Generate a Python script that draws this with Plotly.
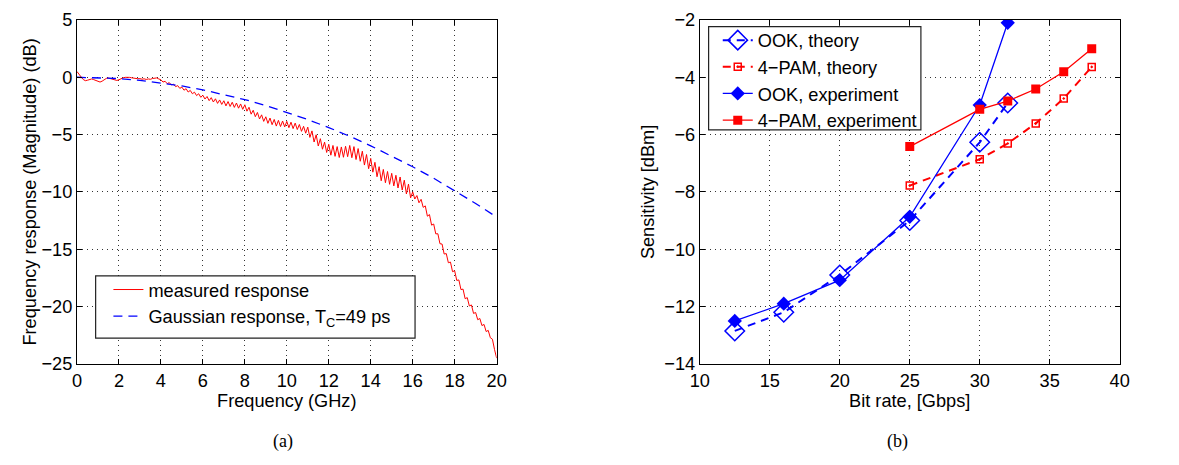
import plotly.graph_objects as go

# ---------------- Data: panel (a) ----------------
measured_db = [
    0.50, 0.30, 0.02, -0.20, -0.30, -0.26, -0.18, -0.15, -0.21, -0.30,
    -0.37, -0.42, -0.34, -0.20, -0.10, -0.07, -0.13, -0.19, -0.26, -0.28,
    -0.22, -0.11, -0.05, -0.01, 0.02, -0.01, -0.05, -0.09, -0.08, -0.13,
    -0.12, -0.17, -0.14, -0.19, -0.15, -0.18, -0.11, -0.10, -0.06, -0.15,
    -0.22, -0.42, -0.35, -0.56, -0.47, -0.68, -0.60, -0.82, -0.73, -0.97,
    -0.86, -1.13, -1.00, -1.29, -1.15, -1.44, -1.30, -1.60, -1.44, -1.75,
    -1.57, -1.90, -1.68, -2.04, -1.78, -2.16, -1.88, -2.28, -1.98, -2.37,
    -2.05, -2.50, -2.12, -2.55, -2.18, -2.63, -2.25, -2.70, -2.33, -2.80,
    -2.40, -2.96, -2.62, -3.22, -2.88, -3.44, -3.07, -3.64, -3.28, -3.85,
    -3.45, -4.02, -3.56, -4.14, -3.68, -4.26, -3.76, -4.30, -3.82, -4.33,
    -3.85, -4.40, -3.92, -4.48, -4.00, -4.56, -4.12, -4.72, -4.28, -4.88,
    -4.35, -5.25, -4.68, -5.65, -5.02, -6.00, -5.36, -6.28, -5.66, -6.56,
    -5.85, -6.80, -5.95, -6.90, -6.05, -7.00, -6.08, -6.98, -6.02, -6.93,
    -5.95, -7.02, -6.05, -7.18, -6.22, -7.33, -6.45, -7.66, -6.74, -7.98,
    -7.08, -8.28, -7.42, -8.68, -7.80, -9.03, -8.04, -9.20, -8.22, -9.34,
    -8.38, -9.48, -8.55, -9.66, -8.70, -9.84, -8.98, -10.18, -9.32, -10.52,
    -10.00, -10.62, -10.32, -10.95, -10.65, -11.35, -11.22, -12.12, -11.98, -12.90,
    -12.80, -13.66, -13.65, -14.52, -14.55, -15.42, -15.38, -16.18, -16.12, -16.96,
    -16.88, -17.72, -17.68, -18.52, -18.48, -19.32, -19.22, -19.95, -19.86, -20.60,
    -20.52, -21.15, -21.04, -21.66, -21.56, -22.18, -22.08, -22.72, -22.85, -23.75,
    -24.50,
]
measured_freq = [round(0.1 * i, 1) for i in range(len(measured_db))]

gauss_freq = [0, 1, 2, 3, 4, 5, 6, 7, 8, 9, 10, 11, 12, 13, 14, 15, 16, 17, 18, 19, 19.8]
gauss_db = [0.0, -0.03, -0.12, -0.27, -0.49, -0.76, -1.10, -1.50, -1.95, -2.47, -3.05,
            -3.69, -4.39, -5.15, -5.98, -6.86, -7.81, -8.81, -9.88, -11.01, -11.96]

# ---------------- Data: panel (b) ----------------
ook_rate = [12.5, 16, 20, 25, 30, 32]
ook_theory = [-12.85, -12.2, -10.9, -9.0, -6.27, -4.9]
ook_exp = [-12.5, -11.9, -11.08, -8.87, -4.97, -2.1]

pam_rate = [25, 30, 32, 34, 36, 38]
pam_theory = [-7.78, -6.86, -6.31, -5.61, -4.74, -3.64]
pam_exp = [-6.42, -5.12, -4.83, -4.41, -3.81, -3.01]

x1_ticks = [0, 2, 4, 6, 8, 10, 12, 14, 16, 18, 20]
y1_ticks = [5, 0, -5, -10, -15, -20, -25]
x2_ticks = [10, 15, 20, 25, 30, 35, 40]
y2_ticks = [-2, -4, -6, -8, -10, -12, -14]

# ---------------- Figure ----------------
# the page keeps the browser's default 8px body margin; the figure fills the rest exactly
OFF = 8
W, H = 1179 - 2 * OFF, 465 - 2 * OFF
BLUE = "rgb(0,0,255)"
RED = "rgb(255,0,0)"
FONT = "Liberation Sans, Arial, Helvetica, sans-serif"
SERIF = "Liberation Serif, Times New Roman, serif"
FS = 18.2


def px_x(p):
    return (p - OFF) / W


def px_y(p):
    return 1 - (p - OFF) / H


fig = go.Figure()

fig.add_trace(go.Scatter(
    x=measured_freq, y=measured_db, mode="lines", name="measured response",
    line=dict(color=RED, width=1), xaxis="x", yaxis="y", legend="legend"))
fig.add_trace(go.Scatter(
    x=gauss_freq, y=gauss_db, mode="lines", name="Gaussian response, T<sub>C</sub>=49 ps",
    line=dict(color=BLUE, width=1.3, dash="9px,6px"), xaxis="x", yaxis="y", legend="legend"))

fig.add_trace(go.Scatter(
    x=ook_rate, y=ook_theory, mode="lines+markers", name="OOK, theory",
    line=dict(color=BLUE, width=2, dash="8px,6px"),
    marker=dict(symbol="diamond-open", size=15, color=BLUE, line=dict(width=1.5, color=BLUE)),
    xaxis="x2", yaxis="y2", legend="legend2"))
fig.add_trace(go.Scatter(
    x=pam_rate, y=pam_theory, mode="lines+markers", name="4\u2212PAM, theory",
    line=dict(color=RED, width=2, dash="8px,6px"),
    marker=dict(symbol="square-open-dot", size=7, color=RED, line=dict(width=1.5, color=RED)),
    xaxis="x2", yaxis="y2", legend="legend2"))
fig.add_trace(go.Scatter(
    x=ook_rate, y=ook_exp, mode="lines+markers", name="OOK, experiment",
    line=dict(color=BLUE, width=1.3),
    marker=dict(symbol="diamond", size=11, color=BLUE),
    xaxis="x2", yaxis="y2", legend="legend2"))
fig.add_trace(go.Scatter(
    x=pam_rate, y=pam_exp, mode="lines+markers", name="4\u2212PAM, experiment",
    line=dict(color=RED, width=1.3),
    marker=dict(symbol="square", size=9, color=RED),
    xaxis="x2", yaxis="y2", legend="legend2"))

axis_common = dict(
    showline=True, linecolor="black", linewidth=1, mirror="ticks",
    ticks="inside", ticklen=5, tickcolor="black", tickwidth=1,
    showgrid=True, gridcolor="#333333", gridwidth=1, griddash="1px,4px",
    zeroline=False, ticklabeloverflow="allow",
    tickfont=dict(family=FONT, size=FS, color="black"),
    title_font=dict(family=FONT, size=FS, color="black"),
)

fig.update_layout(
    width=W, height=H, autosize=False,
    margin=dict(l=0, r=0, t=0, b=0),
    paper_bgcolor="white", plot_bgcolor="white",
    xaxis=dict(domain=[px_x(68), px_x(495)], range=[0, 20], tickvals=x1_ticks,
               anchor="y", title=dict(text="Frequency (GHz)", standoff=3), **axis_common),
    yaxis=dict(domain=[px_y(370), px_y(10)], range=[-25, 5], tickvals=y1_ticks,
               anchor="x", title=dict(text="Frequency response (Magnitude) (dB)", standoff=0),
               **axis_common),
    xaxis2=dict(domain=[px_x(701.7), px_x(1129)], range=[10, 40], tickvals=x2_ticks,
                anchor="y2", title=dict(text="Bit rate, [Gbps]", standoff=3), **axis_common),
    yaxis2=dict(domain=[px_y(370), px_y(10)], range=[-14, -2], tickvals=y2_ticks,
                anchor="x2", title=dict(text="Sensitivity [dBm]", standoff=4), **axis_common),
    legend=dict(x=px_x(100), y=px_y(273), xanchor="left", yanchor="top",
                bgcolor="rgba(0,0,0,0)", borderwidth=0, tracegroupgap=0,
                font=dict(family=FONT, size=FS, color="black")),
    legend2=dict(x=px_x(720), y=px_y(12), xanchor="left", yanchor="top",
                 bgcolor="rgba(0,0,0,0)", borderwidth=0, tracegroupgap=0,
                 font=dict(family=FONT, size=FS, color="black")),
    showlegend=True,
    shapes=[
        dict(type="rect", xref="paper", yref="paper", x0=px_x(87), x1=px_x(412),
             y0=px_y(343), y1=px_y(278), line=dict(color="#222", width=1.2),
             fillcolor="white", layer="above"),
        dict(type="rect", xref="paper", yref="paper", x0=px_x(710.7), x1=px_x(926.7),
             y0=px_y(125), y1=px_y(17), line=dict(color="#222", width=1.2),
             fillcolor="white", layer="above"),
    ],
    annotations=[
        dict(text="(a)", x=px_x(278), y=px_y(451), xref="paper", yref="paper",
             xanchor="center", yanchor="middle", showarrow=False,
             font=dict(family=SERIF, size=18, color="black")),
        dict(text="(b)", x=px_x(903), y=px_y(451), xref="paper", yref="paper",
             xanchor="center", yanchor="middle", showarrow=False,
             font=dict(family=SERIF, size=18, color="black")),
    ],
)

fig.write_html("out.html", config={"displayModeBar": False})
